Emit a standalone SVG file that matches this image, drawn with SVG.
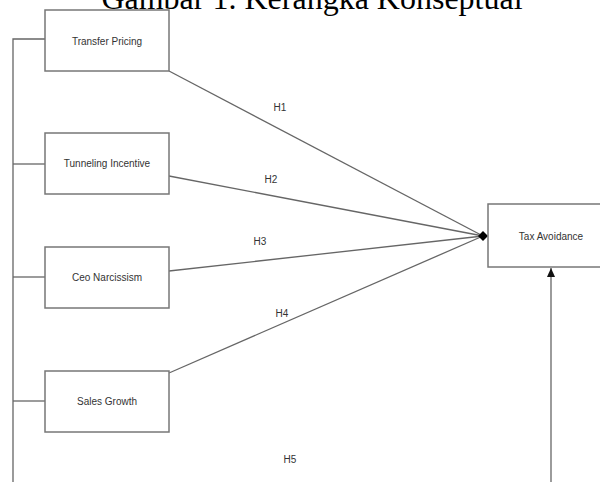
<svg xmlns="http://www.w3.org/2000/svg" width="600" height="482" viewBox="0 0 600 482">
<defs>
<style>
.box{fill:#fff;stroke:#777;stroke-width:1.5}
.lbl{font-family:"Liberation Sans",Arial,sans-serif;font-size:10px;fill:#333;text-anchor:middle;dominant-baseline:central}
.ln{fill:none;stroke:#666;stroke-width:1.3}
.title{font-family:"Liberation Serif","Times New Roman",serif;font-size:32px;fill:#000;text-anchor:middle}
</style>
<marker id="arr" markerWidth="10" markerHeight="10" refX="9" refY="5" orient="auto" markerUnits="userSpaceOnUse">
<path d="M0,1 L9,5 L0,9 Z" fill="#111"/>
</marker>
</defs>
<rect width="600" height="482" fill="#fff"/>
<text class="title" x="312" y="9">Gambar 1. Kerangka Konseptual</text>
<g id="connectors">
<path class="ln" d="M13,482 V39 H45"/>
<path class="ln" d="M13,164 H45"/>
<path class="ln" d="M13,277 H45"/>
<path class="ln" d="M13,401 H45"/>
<line class="ln" x1="169" y1="71" x2="483" y2="236"/>
<line class="ln" x1="169" y1="176" x2="483" y2="236"/>
<line class="ln" x1="169" y1="271" x2="483" y2="236"/>
<line class="ln" x1="169" y1="373" x2="483" y2="236"/>
<path d="M483,231 L488,236 L483,241 L478,236 Z" fill="#000"/>
<line class="ln" x1="551" y1="482" x2="551" y2="268" marker-end="url(#arr)"/>
<text class="lbl" x="280" y="107">H1</text>
<text class="lbl" x="271" y="179">H2</text>
<text class="lbl" x="260" y="241">H3</text>
<text class="lbl" x="282" y="313">H4</text>
<text class="lbl" x="290" y="459">H5</text>
</g>
<g id="transfer-pricing">
<rect class="box" x="45" y="10" width="124" height="61"/>
<text class="lbl" x="107" y="41">Transfer Pricing</text>
</g>
<g id="tunneling-incentive">
<rect class="box" x="45" y="133" width="124" height="61"/>
<text class="lbl" x="107" y="163">Tunneling Incentive</text>
</g>
<g id="ceo-narcissism">
<rect class="box" x="45" y="247" width="124" height="61"/>
<text class="lbl" x="107" y="277">Ceo Narcissism</text>
</g>
<g id="sales-growth">
<rect class="box" x="45" y="371" width="124" height="61"/>
<text class="lbl" x="107" y="401">Sales Growth</text>
</g>
<g id="tax-avoidance">
<rect class="box" x="488" y="204" width="124" height="63"/>
<text class="lbl" x="551" y="236">Tax Avoidance</text>
</g>
</svg>
